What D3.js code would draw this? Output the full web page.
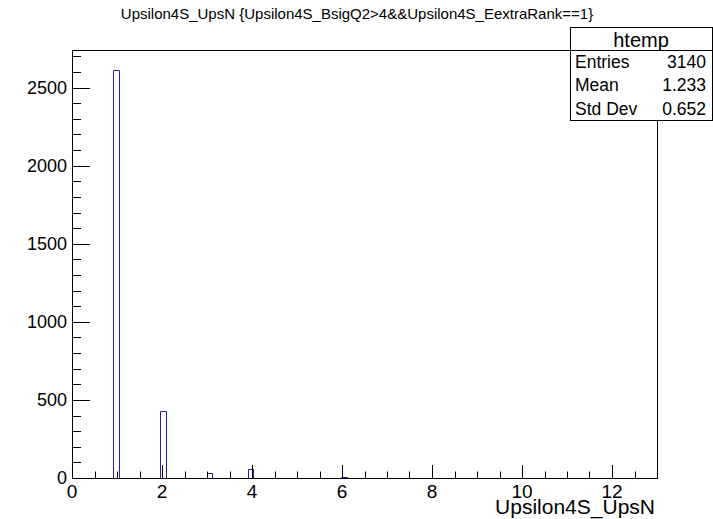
<!DOCTYPE html>
<head>
    <meta charset="utf-8">
    <title>Upsilon4S_UpsN</title>
    <script src="https://d3js.org/d3.v7.min.js"></script>
</head>

<body>
<svg id="chart"></svg>
</body>

<script>

    // histogram "htemp": 100 bins from 0 to 13
    var nBins = 100,
        xMin = 0,
        xMax = 13;

    // filled bins (value of Upsilon4S_UpsN, entries)
    var upsN = [1, 2, 3, 4, 5, 6]
    var counts = [2610, 432, 30, 57, 3, 8]

    var xTicks = [0, 2, 4, 6, 8, 10, 12]
    var yTicks = [0, 500, 1000, 1500, 2000, 2500]

    var statNames = ["Entries", "Mean", "Std Dev"]
    var statValues = ["3140", "1.233", "0.652"]

    var titleText = "Upsilon4S_UpsN {Upsilon4S_BsigQ2>4&&Upsilon4S_EextraRank==1}"

    var width = 713,
        height = 519;

    var frame = {left: 72, right: 657, top: 50, bottom: 478}
    var font = "'Liberation Sans', Arial, Helvetica, sans-serif"
    var histColor = "#1e1eb4"

    var svg = d3.select("#chart")
        .attr("width", width)
        .attr("height", height)

    // fill the bins
    var binW = (xMax - xMin) / nBins
    var bins = d3.range(nBins).map(function(i) { return 0 })
    upsN.forEach(function(v, i) {
        bins[Math.floor((v - xMin) / binW)] += counts[i]
    })

    var x = d3.scaleLinear().domain([xMin, xMax]).range([frame.left, frame.right])
    var y = d3.scaleLinear().domain([0, d3.max(bins) * 1.05]).range([frame.bottom, frame.top])

    // histogram outline as a step path
    var pts = [[xMin, 0]]
    bins.forEach(function(c, i) {
        pts.push([xMin + i * binW, c])
        pts.push([xMin + (i + 1) * binW, c])
    })
    pts.push([xMax, 0])

    var line = d3.line()
        .x(function(d) { return Math.round(x(d[0])) + 0.5 })
        .y(function(d) { return Math.round(y(d[1])) + 0.5 })

    svg.append("path")
        .attr("d", line(pts))
        .attr("fill", "none")
        .attr("stroke", histColor)
        .attr("stroke-width", 1)

    // frame
    svg.append("rect")
        .attr("x", frame.left + 0.5)
        .attr("y", frame.top + 0.5)
        .attr("width", frame.right - frame.left)
        .attr("height", frame.bottom - frame.top)
        .attr("fill", "none")
        .attr("stroke", "black")

    // x ticks: major every 2, minor every 0.5
    var xMinor = d3.range(0, 13.01, 0.5)
    svg.selectAll(".xtick")
        .data(xMinor)
        .enter().append("line")
        .attr("class", "xtick")
        .attr("x1", function(d) { return Math.round(x(d)) + 0.5 })
        .attr("x2", function(d) { return Math.round(x(d)) + 0.5 })
        .attr("y1", frame.bottom)
        .attr("y2", function(d) { return d % 2 == 0 ? frame.bottom - 13 : frame.bottom - 6.5 })
        .attr("stroke", "black")

    svg.selectAll(".xlabel")
        .data(xTicks)
        .enter().append("text")
        .attr("class", "xlabel")
        .attr("x", function(d) { return x(d) })
        .attr("y", 498)
        .attr("text-anchor", "middle")
        .style("font-family", font)
        .style("font-size", "19px")
        .text(function(d) { return d })

    // y ticks: major every 500, minor every 100
    var yMinor = d3.range(0, y.domain()[1], 100)
    svg.selectAll(".ytick")
        .data(yMinor)
        .enter().append("line")
        .attr("class", "ytick")
        .attr("y1", function(d) { return Math.round(y(d)) + 0.5 })
        .attr("y2", function(d) { return Math.round(y(d)) + 0.5 })
        .attr("x1", frame.left)
        .attr("x2", function(d) { return d % 500 == 0 ? frame.left + 18 : frame.left + 9 })
        .attr("stroke", "black")

    svg.selectAll(".ylabel")
        .data(yTicks)
        .enter().append("text")
        .attr("class", "ylabel")
        .attr("x", 67)
        .attr("y", function(d) { return y(d) })
        .attr("dy", "0.35em")
        .attr("text-anchor", "end")
        .style("font-family", font)
        .style("font-size", "18px")
        .text(function(d) { return d })

    // axis title
    svg.append("text")
        .attr("x", frame.right - 2)
        .attr("y", 514)
        .attr("text-anchor", "end")
        .style("font-family", font)
        .style("font-size", "21px")
        .text("Upsilon4S_UpsN")

    // histogram title
    svg.append("text")
        .attr("x", 357)
        .attr("y", 19)
        .attr("text-anchor", "middle")
        .style("font-family", font)
        .style("font-size", "15px")
        .text(titleText)

    // stats box
    var box = {x: 570, y: 27, w: 142, h: 93, row: 23.25}
    svg.append("rect")
        .attr("x", box.x + 0.5)
        .attr("y", box.y + 0.5)
        .attr("width", box.w)
        .attr("height", box.h)
        .attr("fill", "white")
        .attr("stroke", "black")
    svg.append("line")
        .attr("x1", box.x).attr("x2", box.x + box.w)
        .attr("y1", Math.round(box.y + box.row) + 0.5).attr("y2", Math.round(box.y + box.row) + 0.5)
        .attr("stroke", "black")
    svg.append("text")
        .attr("x", box.x + box.w / 2)
        .attr("y", box.y + box.row / 2 + 1)
        .attr("dy", "0.35em")
        .attr("text-anchor", "middle")
        .style("font-family", font)
        .style("font-size", "20px")
        .text("htemp")

    statNames.forEach(function(name, i) {
        var cy = box.y + box.row * (i + 1.5)
        svg.append("text")
            .attr("x", box.x + 5)
            .attr("y", cy)
            .attr("dy", "0.35em")
            .style("font-family", font)
            .style("font-size", "17.5px")
            .text(name)
        svg.append("text")
            .attr("x", box.x + box.w - 6)
            .attr("y", cy)
            .attr("dy", "0.35em")
            .attr("text-anchor", "end")
            .style("font-family", font)
            .style("font-size", "17.5px")
            .text(statValues[i])
    })

</script>

<style>
    html, body {
        margin: 0;
        background: white;
    }
</style>

</html>
